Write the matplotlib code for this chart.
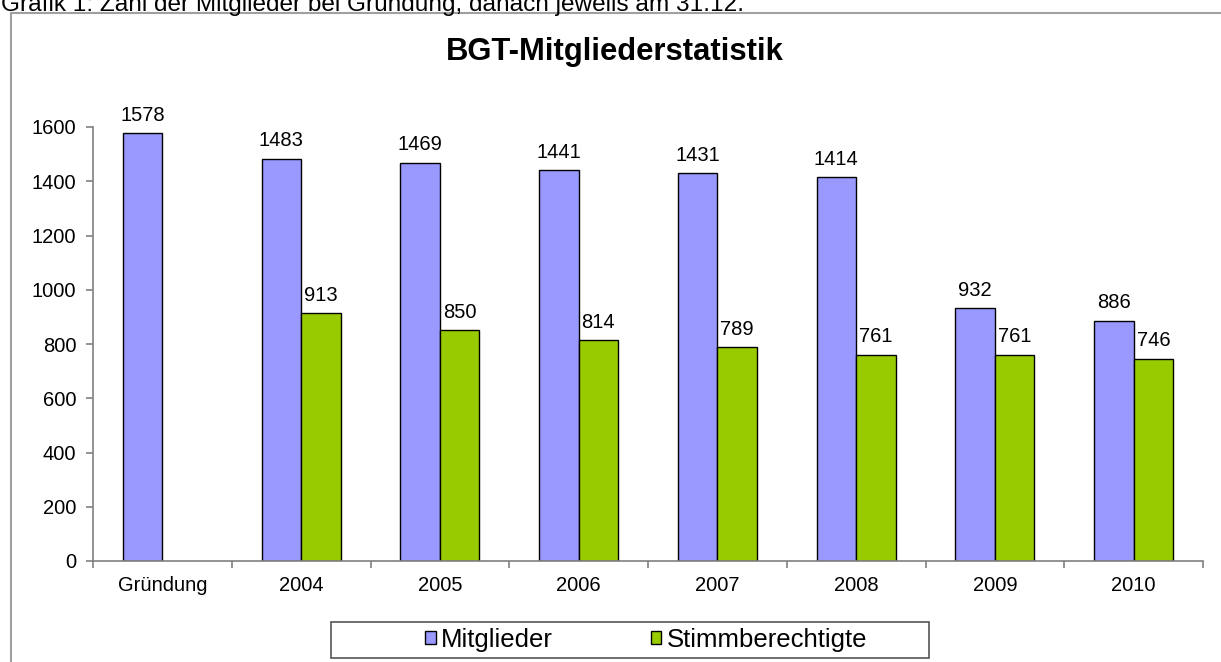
import numpy as np
import matplotlib
matplotlib.use("Agg")
import matplotlib.pyplot as plt
from matplotlib.lines import Line2D
from matplotlib.patches import Rectangle

categories = ["Gründung", "2004", "2005", "2006", "2007", "2008", "2009", "2010"]
mitglieder = [1578, 1483, 1469, 1441, 1431, 1414, 932, 886]
stimmberechtigte = [np.nan, 913, 850, 814, 789, 761, 761, 746]
series_names = ["Mitglieder", "Stimmberechtigte"]
yticks = [0, 200, 400, 600, 800, 1000, 1200, 1400, 1600]

plt.rcParams['font.family'] = ['Liberation Sans', 'DejaVu Sans']

W, H = 1221, 662
fig = plt.figure(figsize=(W/100, H/100), dpi=100)
ax = fig.add_axes([93/W, 1-561/H, (1203-93)/W, (561-127)/H])

x = np.arange(len(categories))
w = 0.285
b1 = ax.bar(x - w/2, mitglieder, width=w, color="#9999FF", edgecolor="black", linewidth=1.0, label=series_names[0])
b2 = ax.bar(x + w/2, stimmberechtigte, width=w, color="#99CC00", edgecolor="black", linewidth=1.0, label=series_names[1])

for xs, vals in ((x - w/2, mitglieder), (x + w/2, stimmberechtigte)):
    for xi, v in zip(xs, vals):
        if np.isnan(v):
            continue
        ax.annotate(f"{int(v)}", (xi, v), xytext=(0, 6), textcoords="offset points",
                    ha="center", va="bottom", fontsize=14.5, color="black")

ax.set_xlim(-0.5, len(categories) - 0.5)
ax.set_ylim(0, 1600)
ax.set_yticks(yticks)
ax.set_yticklabels([str(t) for t in yticks])
ax.set_xticks(x)
ax.set_xticklabels(categories)
ax.set_xticks(np.arange(-0.5, len(categories)), minor=True)
ax.tick_params(axis="x", which="major", length=0, pad=11, labelsize=14.5)
ax.tick_params(axis="x", which="minor", length=5, width=1.2, color="#808080")
ax.tick_params(axis="y", length=5, width=1.2, color="#808080", pad=7, labelsize=14.5)

for s in ("top", "right"):
    ax.spines[s].set_visible(False)
for s in ("left", "bottom"):
    ax.spines[s].set_color("#808080")
    ax.spines[s].set_linewidth(1.2)

# Title
fig.text(615/W, 1-52/H, "BGT-Mitgliederstatistik", ha="center", va="center",
         fontsize=22.3, fontweight="bold")

# Caption above the frame (partly cut off, as in the source)
fig.text(1/W, 1-11/H, "Grafik 1: Zahl der Mitglieder bei Gründung, danach jeweils am 31.12.",
         ha="left", va="baseline", fontsize=17.6, color="black")

# Frame
fig.add_artist(Line2D([11/W, 11/W], [0, 1-13/H], color="#a0a0a0", linewidth=1.5,
                      transform=fig.transFigure))
fig.add_artist(Line2D([11/W, 1], [1-13/H, 1-13/H], color="#a0a0a0", linewidth=1.5,
                      transform=fig.transFigure))

# Legend box
fig.add_artist(Rectangle((331/W, 1-658/H), (929-331)/W, (658-622)/H, transform=fig.transFigure,
                         facecolor="white", edgecolor="#555555", linewidth=1.2))
leg = fig.legend(handles=[b1, b2], labels=series_names, loc="center",
                 bbox_to_anchor=(646/W, 1-640/H), ncol=2, frameon=False,
                 fontsize=18.5, handlelength=0.42, handleheight=0.42, handletextpad=0.2,
                 columnspacing=3.8, borderpad=0.1)

fig.savefig("out.png", dpi=100)
